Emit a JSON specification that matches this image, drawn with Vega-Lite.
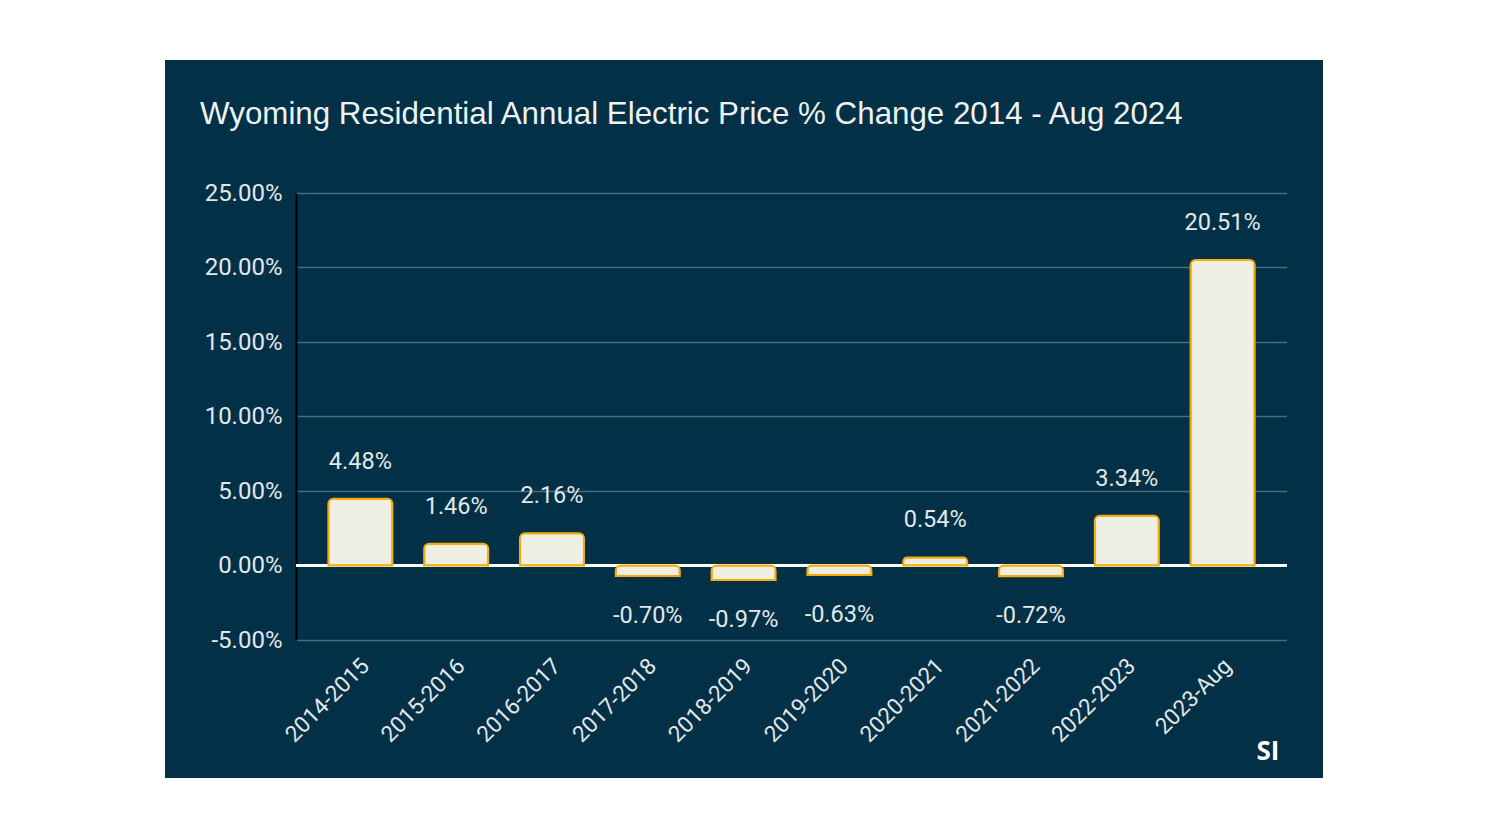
{
  "$schema": "https://vega.github.io/schema/vega-lite/v6.json",
  "background": "#ffffff",
  "padding": {"left": 165, "top": 60, "right": 165, "bottom": 59},
  "autosize": {"type": "pad"},
  "spacing": 0,
  "bounds": "flush",
  "columns": 3,
  "config": {
    "view": {"stroke": null, "fill": "#023047"},
    "concat": {"spacing": 0},
    "locale": {"number": {"decimal": ".", "thousands": ",", "grouping": [3], "currency": ["$", ""], "minus": "-"}}
  },
  "datasets": {
    "d": [
      {"period": "2014-2015", "value": 0.0448},
      {"period": "2015-2016", "value": 0.0146},
      {"period": "2016-2017", "value": 0.0216},
      {"period": "2017-2018", "value": -0.0070},
      {"period": "2018-2019", "value": -0.0097},
      {"period": "2019-2020", "value": -0.0063},
      {"period": "2020-2021", "value": 0.0054},
      {"period": "2021-2022", "value": -0.0072},
      {"period": "2022-2023", "value": 0.0334},
      {"period": "2023-Aug", "value": 0.2051}
    ],
    "e": [{"a": 0}]
  },
  "concat": [
    {"width": 131, "height": 133, "view": {"fill": "#023047", "stroke": null}, "data": {"name": "e"}, "mark": {"type": "point", "opacity": 0}},
    {
      "width": 991,
      "height": 133,
      "view": {"fill": "#023047", "stroke": null},
      "data": {"name": "e"},
      "mark": {"type": "point", "opacity": 0},
      "title": {
        "text": "Wyoming Residential Annual Electric Price % Change 2014 - Aug 2024",
        "anchor": "start",
        "frame": "group",
        "orient": "top",
        "offset": -95,
        "dx": -96,
        "baseline": "alphabetic",
        "font": "Liberation Sans",
        "fontSize": 31.3,
        "fontWeight": "normal",
        "color": "#eef2f3"
      }
    },
    {"width": 36, "height": 133, "view": {"fill": "#023047", "stroke": null}, "data": {"name": "e"}, "mark": {"type": "point", "opacity": 0}},
    {"width": 131, "height": 461, "view": {"fill": "#023047", "stroke": null}, "data": {"name": "e"}, "mark": {"type": "point", "opacity": 0}},
    {
      "width": 991,
      "height": 461,
      "data": {"name": "d"},
      "layer": [
        {
          "mark": {"type": "rule", "color": "#ffffff", "strokeWidth": 2},
          "encoding": {
            "y": {"datum": 0, "type": "quantitative"}
          }
        },
        {
          "mark": {"type": "bar", "fill": "#efeee2", "stroke": "#f7aa0a", "strokeWidth": 2, "cornerRadiusEnd": 5},
          "encoding": {
            "x": {"field": "period", "type": "nominal", "sort": null, "scale": {"paddingInner": 0.332, "paddingOuter": 0.338}, "axis": null},
            "y": {
              "field": "value",
              "type": "quantitative",
              "scale": {"domain": [-0.05, 0.25], "range": [447, 0], "nice": false, "zero": false},
              "axis": {
                "values": [-0.05, 0, 0.05, 0.1, 0.15, 0.2, 0.25],
                "format": ".2%",
                "title": null,
                "grid": true,
                "domain": true,
                "domainColor": "#000000",
                "domainWidth": 2,
                "ticks": false,
                "gridColor": "#4a6c7d",
                "gridWidth": 1.5,
                "labelColor": "#e3e8ea",
                "labelFont": "Roboto",
                "labelFontSize": 24,
                "labelPadding": 14
              }
            }
          }
        },
        {
          "transform": [{"filter": "datum.value >= 0"}],
          "mark": {"type": "text", "dy": -37, "baseline": "middle", "font": "Roboto", "fontSize": 23.5, "color": "#e3e8ea"},
          "encoding": {
            "x": {"field": "period", "type": "nominal", "sort": null},
            "y": {"field": "value", "type": "quantitative"},
            "text": {"field": "value", "type": "quantitative", "format": ".2%"}
          }
        },
        {
          "transform": [{"filter": "datum.value < 0"}],
          "mark": {"type": "text", "dy": 40, "baseline": "middle", "font": "Roboto", "fontSize": 23.5, "color": "#e3e8ea"},
          "encoding": {
            "x": {"field": "period", "type": "nominal", "sort": null},
            "y": {"field": "value", "type": "quantitative"},
            "text": {"field": "value", "type": "quantitative", "format": ".2%"}
          }
        }
      ]
    },
    {"width": 36, "height": 461, "view": {"fill": "#023047", "stroke": null}, "data": {"name": "e"}, "mark": {"type": "point", "opacity": 0}},
    {"width": 131, "height": 124, "view": {"fill": "#023047", "stroke": null}, "data": {"name": "e"}, "mark": {"type": "point", "opacity": 0}},
    {
      "width": 991,
      "height": 124,
      "data": {"name": "d"},
      "mark": {"type": "point", "opacity": 0},
      "encoding": {
        "x": {
          "field": "period",
          "type": "nominal",
          "sort": null,
          "scale": {"type": "band", "paddingInner": 0.332, "paddingOuter": 0.338},
          "axis": {
            "orient": "top",
            "offset": -8,
            "labelAngle": -45,
            "labelAlign": "right",
            "labelBaseline": "middle",
            "labelOffset": 5,
            "labelPadding": 0,
            "labelOverlap": false,
            "domain": false,
            "ticks": false,
            "grid": false,
            "title": null,
            "labelFont": "Roboto",
            "labelFontSize": 22.5,
            "labelColor": "#e3e8ea"
          }
        }
      }
    },
    {
      "width": 36,
      "height": 124,
      "view": {"fill": "#023047", "stroke": null},
      "data": {"name": "e"},
      "mark": {"type": "point", "opacity": 0},
      "title": {
        "text": "SI",
        "orient": "bottom",
        "anchor": "middle",
        "frame": "group",
        "offset": -18,
        "dx": -37,
        "baseline": "alphabetic",
        "font": "Open Sans",
        "fontSize": 26,
        "fontWeight": "bold",
        "color": "#ffffff"
      }
    }
  ]
}
